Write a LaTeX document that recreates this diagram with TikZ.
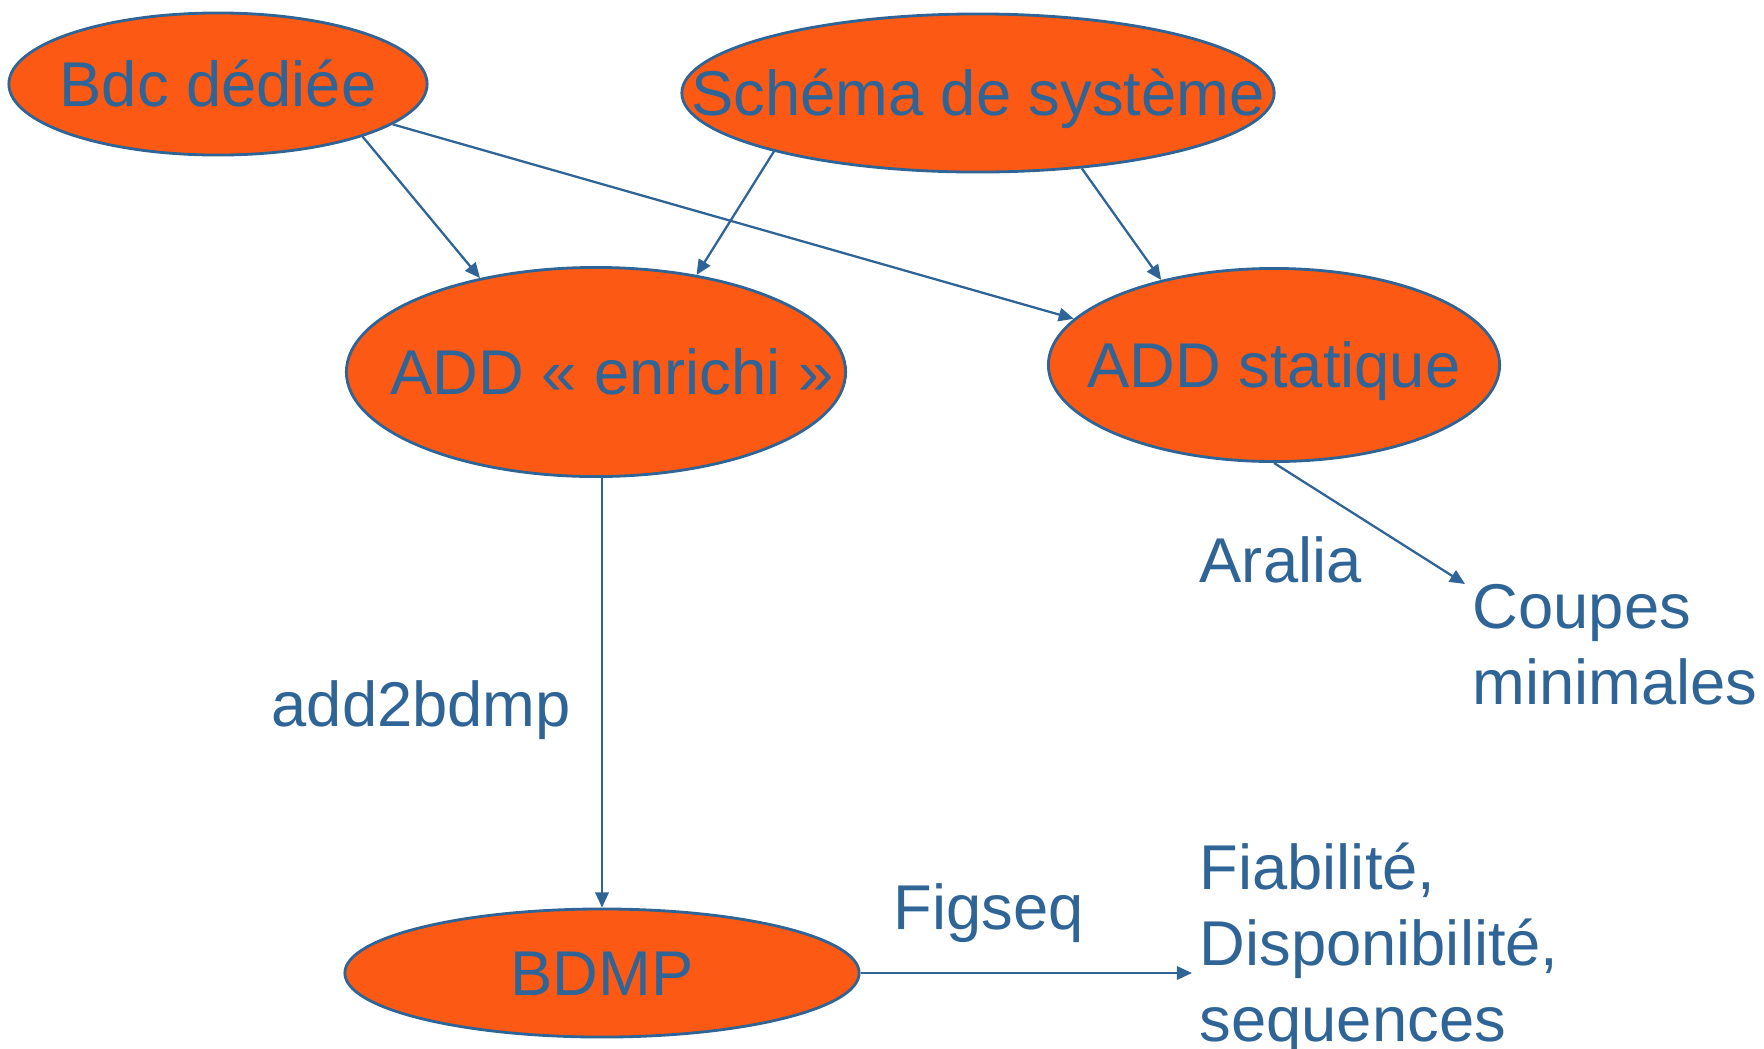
\documentclass[tikz,border=0pt]{standalone}
\usepackage{fontspec}
\setmainfont{Liberation Sans}
\usetikzlibrary{shapes.geometric,arrows.meta}
\definecolor{flame}{HTML}{FC5A14}
\definecolor{slate}{HTML}{2F6497}

\begin{document}
\begin{tikzpicture}[x=0.01cm,y=-0.01cm,
  every node/.style={text=slate,font=\fontsize{18}{21.6}\selectfont},
  blob/.style={ellipse,draw=slate,line width=0.8pt,fill=flame,inner sep=0pt,
    text height=12.8pt,text depth=0pt},
  tag/.style={inner xsep=2pt,inner ysep=0pt,align=left},
  link/.style={draw=slate,line width=0.65pt,-{Triangle[length=4.3pt,width=3.8pt]}}]
\useasboundingbox (0,0) rectangle (1764,1048);

% Sources
\node[blob,minimum width=4.18cm,minimum height=1.42cm] (bdc) at (218,84) {\makebox[0pt]{Bdc dédiée}};
\node[blob,minimum width=5.92cm,minimum height=1.58cm] (schema) at (978,93) {\makebox[0pt]{Schéma de système}};

% Models
\node[blob,minimum width=4.99cm,minimum height=2.09cm] (enrichi) at (596,372)
  {\makebox[0pt]{\hspace{3.2mm}ADD « enrichi »}};
\node[blob,minimum width=4.51cm,minimum height=1.93cm] (statique) at (1274,365) {\makebox[0pt]{ADD statique}};
\node[blob,minimum width=5.14cm,minimum height=1.28cm] (bdmp) at (602,973) {\makebox[0pt]{BDMP}};

% Results
\node[tag,anchor=north west] (coupes) at (1465,584) {Coupes\\minimales};
\node[tag,anchor=north west] (fiab) at (1192,842) {Fiabilité,\\Disponibilité,\\sequences};

% Tools
\node[tag,anchor=base west] (aralia) at (1192,582) {Aralia};
\node[tag,anchor=base west] (a2b) at (264,726) {add2bdmp};
\node[tag,anchor=base west] (figseq) at (886,929) {Figseq};

\draw[link] (bdc.-20) -- (enrichi.141);
\draw[link] (bdc.-13) -- (statique.167);
\draw[link] (schema.196) -- (enrichi.44);
\draw[link] (schema.-36) -- (statique.143);
\draw[link] (bdmp.north |- enrichi.south) -- (bdmp.north);
\draw[link] (statique.south) -- (coupes.north west);
\draw[link] (bdmp.east) -- (bdmp.east -| fiab.west);
\end{tikzpicture}
\end{document}
